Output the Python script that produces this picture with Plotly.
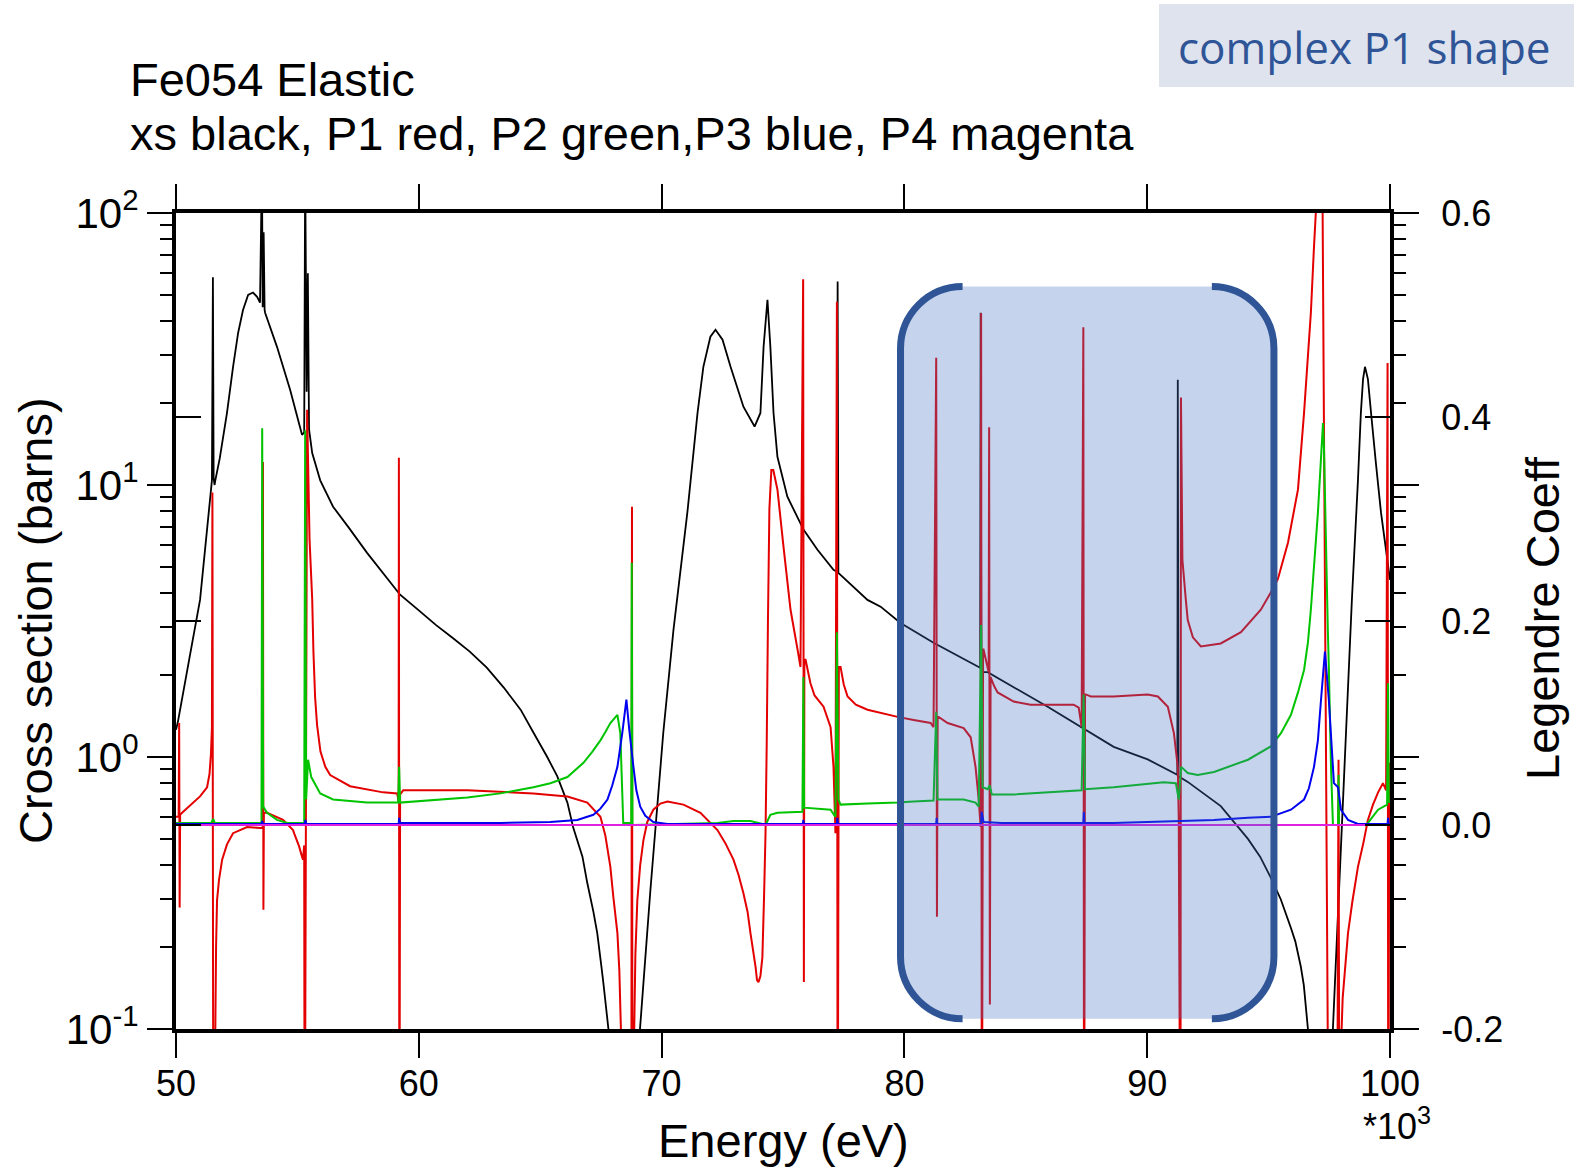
import plotly.graph_objects as go

# ---------------- data (energy in units of 10^3 eV) ----------------
# xs (black), cross section in barns, left log axis
xs_points = [
    (50.00, 1.26), (50.08, 1.35), (50.55, 2.3), (50.99, 3.78), (51.48, 10.4), (51.52, 58), (51.55, 10.6),
    (51.59, 10.0), (51.61, 10.3), (51.80, 12.5), (52.10, 18.4), (52.35, 27.2), (52.56, 36.3), (52.76, 44.0),
    (52.97, 50), (53.17, 51), (53.34, 49.2), (53.46, 46.8), (53.54, 150), (53.57, 45), (53.61, 85),
    (53.65, 44), (53.67, 43), (54.16, 32.2), (54.70, 22.4), (55.19, 15.3), (55.28, 15.6), (55.32, 150),
    (55.38, 22), (55.43, 60), (55.48, 16), (55.61, 13.1), (55.94, 10.4), (56.47, 8.32), (57.10, 7.0),
    (57.87, 5.63), (59.23, 3.95), (60.00, 3.46), (60.70, 3.06), (61.40, 2.74), (62.10, 2.44), (62.80, 2.13),
    (63.50, 1.80), (64.20, 1.49), (64.72, 1.23), (65.29, 1.0), (65.70, 0.85), (66.12, 0.68), (66.36, 0.55),
    (66.74, 0.43), (66.94, 0.344), (67.19, 0.27), (67.35, 0.225), (67.52, 0.17), (67.60, 0.148),
    (67.81, 0.1), (67.90, 0.07), (68.98, 0.07), (69.54, 0.325), (70.07, 1.23), (70.49, 2.94), (71.06, 7.91),
    (71.48, 18.4), (71.72, 27.2), (72.01, 35.1), (72.22, 37.2), (72.51, 34.2), (72.84, 27.2), (73.37, 19.4),
    (73.83, 16.4), (74.07, 18.4), (74.20, 32.2), (74.36, 48), (74.48, 32.2), (74.61, 18.4), (74.77, 12.7),
    (75.18, 9.06), (75.85, 6.84), (76.42, 5.78), (77.08, 4.88), (77.22, 4.8), (77.25, 56), (77.28, 4.75),
    (78.48, 3.78), (79.02, 3.57), (79.84, 3.11), (81.20, 2.63), (83.12, 2.13), (83.14, 43), (83.17, 2.05),
    (83.43, 2.05), (85.90, 1.53), (88.62, 1.09), (90.02, 0.98), (91.24, 0.86), (91.26, 24.4), (91.29, 0.85),
    (91.67, 0.81), (93.03, 0.66), (94.15, 0.50), (94.65, 0.43), (95.09, 0.36), (95.50, 0.30),
    (95.92, 0.235), (96.10, 0.21), (96.33, 0.169), (96.45, 0.145), (96.62, 0.1), (96.70, 0.07),
    (97.60, 0.08), (98.43, 3.78), (98.68, 10.4), (98.80, 18.4), (98.89, 24.5), (98.97, 27.2), (99.09, 24.5),
    (99.22, 18.4), (99.42, 12.0), (99.63, 7.91), (100.00, 4.48),
]

# P1 (red), Legendre coefficient, right axis
p1_points = [
    (50.00, 0.008), (50.11, 0.008), (50.13, 0.100), (50.15, -0.081), (50.17, 0.010), (50.25, 0.012),
    (50.99, 0.028), (51.28, 0.037), (51.38, 0.050), (51.44, 0.070), (51.48, 0.095), (51.50, 0.326),
    (51.54, -0.4), (51.61, -0.4), (51.62, -0.2), (51.65, -0.12), (51.69, -0.074), (51.77, -0.054),
    (51.90, -0.034), (52.10, -0.019), (52.35, -0.008), (52.93, -0.002), (53.46, -0.003), (53.57, -0.003),
    (53.58, 0.356), (53.60, -0.083), (53.62, 0.012), (53.75, 0.012), (54.41, 0.005), (54.82, -0.005),
    (54.91, -0.011), (55.07, -0.021), (55.19, -0.031), (55.23, -0.034), (55.28, -0.020), (55.30, -0.4),
    (55.40, 0.407), (55.50, 0.28), (55.61, 0.221), (55.66, 0.17), (55.73, 0.125), (55.81, 0.098),
    (55.95, 0.072), (56.15, 0.057), (56.35, 0.049), (57.17, 0.038), (58.53, 0.032), (59.11, 0.031),
    (59.17, 0.023), (59.18, 0.360), (59.20, -0.4), (59.23, 0.030), (59.36, 0.034), (62.00, 0.034),
    (64.72, 0.031), (66.12, 0.028), (66.94, 0.022), (67.48, 0.008), (67.68, -0.010), (67.89, -0.041),
    (68.01, -0.070), (68.18, -0.106), (68.26, -0.143), (68.38, -0.25), (68.45, -0.4), (68.75, -0.4),
    (68.78, 0.312), (68.80, -0.4), (68.84, -0.25), (68.92, -0.127), (69.00, -0.074), (69.12, -0.039),
    (69.25, -0.015), (69.41, 0.003), (69.66, 0.015), (69.95, 0.021), (70.24, 0.023), (70.90, 0.020),
    (71.60, 0.012), (72.30, -0.005), (72.63, -0.018), (72.96, -0.034), (73.17, -0.049), (73.37, -0.067),
    (73.54, -0.085), (73.66, -0.106), (73.87, -0.139), (73.93, -0.152), (73.99, -0.154), (74.07, -0.148),
    (74.15, -0.130), (74.22, -0.07), (74.28, -0.008), (74.33, 0.08), (74.38, 0.20), (74.44, 0.31),
    (74.52, 0.348), (74.60, 0.348), (74.77, 0.329), (75.02, 0.273), (75.31, 0.211), (75.60, 0.172),
    (75.72, 0.155), (75.83, 0.535), (75.86, -0.154), (75.88, 0.162), (75.93, 0.162), (76.13, 0.139),
    (76.30, 0.127), (76.67, 0.116), (76.96, 0.096), (77.08, 0.057), (77.16, -0.008), (77.22, 0.513),
    (77.25, -0.4), (77.30, 0.155), (77.37, 0.155), (77.50, 0.138), (77.66, 0.126), (78.00, 0.118),
    (78.48, 0.113), (79.72, 0.106), (80.38, 0.103), (81.08, 0.100), (81.20, 0.096), (81.31, 0.458),
    (81.34, -0.090), (81.37, 0.106), (81.41, 0.106), (81.78, 0.100), (82.44, 0.095), (82.73, 0.086),
    (82.93, 0.057), (83.06, 0.025), (83.14, -0.002), (83.16, 0.502), (83.19, -0.4), (83.24, 0.172),
    (83.26, 0.172), (83.47, 0.150), (83.49, 0.390), (83.52, -0.176), (83.55, 0.145), (83.70, 0.136),
    (83.84, 0.130), (84.50, 0.121), (85.20, 0.118), (86.97, 0.118), (87.18, 0.115), (87.30, 0.096),
    (87.37, 0.488), (87.40, -0.4), (87.44, 0.128), (87.47, 0.128), (87.68, 0.126), (88.62, 0.126),
    (90.02, 0.128), (90.44, 0.126), (90.85, 0.116), (91.10, 0.090), (91.26, 0.057), (91.30, 0.005),
    (91.37, -0.4), (91.39, 0.419), (91.45, 0.26), (91.59, 0.221), (91.67, 0.201), (91.88, 0.184),
    (92.21, 0.175), (93.03, 0.178), (93.86, 0.189), (94.68, 0.211), (95.09, 0.228), (95.38, 0.241),
    (95.80, 0.277), (96.21, 0.329), (96.46, 0.404), (96.74, 0.502), (96.87, 0.567), (96.99, 0.62),
    (97.10, 0.9), (97.22, 0.62), (97.44, -0.22), (97.60, -0.5), (97.80, -0.5), (97.88, 0.064),
    (97.92, -0.4), (97.98, -0.22), (98.05, -0.17), (98.27, -0.106), (98.45, -0.075), (98.68, -0.041),
    (98.90, -0.018), (99.09, 0.005), (99.30, 0.020), (99.51, 0.032), (99.71, 0.041), (99.84, 0.034),
    (99.90, 0.453), (99.93, -0.4), (99.97, 0.06), (100.00, 0.06),
]

# P2 (green)
p2_points = [
    (50.00, 0.002), (51.45, 0.002), (51.53, 0.006), (51.60, 0.002), (53.52, 0.002), (53.55, 0.389),
    (53.59, 0.018), (53.75, 0.012), (54.16, 0.005), (54.57, 0.002), (55.28, 0.002), (55.32, 0.387),
    (55.36, 0.025), (55.44, 0.064), (55.57, 0.047), (55.94, 0.031), (56.47, 0.025), (57.87, 0.022),
    (59.15, 0.022), (59.19, 0.057), (59.23, 0.022), (62.00, 0.027), (63.36, 0.031), (64.72, 0.037),
    (65.42, 0.041), (66.12, 0.047), (66.78, 0.061), (67.15, 0.072), (67.48, 0.083), (67.68, 0.091),
    (67.89, 0.100), (68.18, 0.108), (68.30, 0.090), (68.42, 0.002), (68.75, 0.002), (68.77, 0.257),
    (68.80, 0.0), (72.30, 0.002), (72.96, 0.004), (73.66, 0.004), (74.15, 0.001), (74.28, 0.0),
    (74.48, 0.010), (74.77, 0.012), (75.80, 0.013), (75.84, 0.145), (75.87, 0.017), (76.96, 0.015),
    (77.16, 0.008), (77.22, 0.189), (77.28, 0.025), (77.37, 0.020), (78.48, 0.021), (79.72, 0.022),
    (80.38, 0.023), (81.20, 0.024), (81.31, 0.111), (81.36, 0.025), (82.44, 0.025), (82.93, 0.022),
    (83.06, 0.018), (83.16, 0.196), (83.22, 0.037), (83.43, 0.035), (83.51, 0.039), (83.60, 0.030),
    (84.50, 0.030), (87.30, 0.034), (87.38, 0.128), (87.44, 0.035), (88.62, 0.037), (90.68, 0.042),
    (91.18, 0.041), (91.30, 0.025), (91.40, 0.057), (91.67, 0.051), (92.08, 0.049), (92.75, 0.052),
    (94.15, 0.064), (95.09, 0.077), (95.51, 0.090), (95.92, 0.108), (96.21, 0.130), (96.46, 0.152),
    (96.62, 0.179), (96.74, 0.211), (97.03, 0.306), (97.24, 0.394), (97.28, 0.370), (97.44, 0.191),
    (97.48, 0.155), (97.57, 0.057), (97.65, 0.0), (97.86, 0.0), (97.88, 0.049), (97.90, 0.0),
    (98.97, 0.0), (99.09, 0.002), (99.51, 0.015), (99.88, 0.020), (99.92, 0.139), (99.95, 0.022),
    (100.00, 0.024),
]

# P3 (blue)
p3_points = [
    (50.00, 0.001), (53.52, 0.001), (53.55, 0.004), (53.58, 0.001), (55.30, 0.001), (55.33, 0.005),
    (55.36, 0.001), (59.17, 0.001), (59.19, 0.007), (59.22, 0.002), (63.36, 0.002), (65.42, 0.003),
    (66.53, 0.005), (67.19, 0.010), (67.48, 0.016), (67.77, 0.025), (67.97, 0.039), (68.18, 0.057),
    (68.38, 0.090), (68.55, 0.123), (68.67, 0.093), (68.84, 0.057), (68.96, 0.034), (69.12, 0.018),
    (69.33, 0.009), (69.66, 0.003), (70.24, 0.001), (75.82, 0.001), (75.84, 0.005), (75.86, 0.001),
    (77.22, 0.001), (77.24, 0.007), (77.26, 0.001), (81.31, 0.001), (81.33, 0.007), (81.35, 0.001),
    (83.16, 0.001), (83.18, 0.013), (83.26, 0.003), (84.00, 0.002), (87.37, 0.002), (87.39, 0.013),
    (87.41, 0.002), (88.62, 0.002), (91.38, 0.004), (92.75, 0.005), (94.15, 0.007), (95.09, 0.008),
    (95.92, 0.015), (96.46, 0.025), (96.66, 0.036), (96.87, 0.057), (97.03, 0.083), (97.16, 0.123),
    (97.32, 0.170), (97.48, 0.123), (97.69, 0.041), (97.86, 0.037), (97.98, 0.015), (98.27, 0.005),
    (98.68, 0.001), (99.90, 0.001), (99.92, 0.007), (99.94, 0.001), (100.00, 0.001),
]

# P4 (magenta)
p4_points = [(50.00, 0.0), (75.00, 0.0), (100.00, 0.0)]

# ticks
x_tick_vals = [50, 60, 70, 80, 90, 100]
x_tick_text = ["50", "60", "70", "80", "90", "100"]
y_tick_vals = [0.1, 1, 10, 100]
y_tick_text = ["10<sup>-1</sup>", "10<sup>0</sup>", "10<sup>1</sup>", "10<sup>2</sup>"]
y_minor_vals = [0.2, 0.3, 0.4, 0.5, 0.6, 0.7, 0.8, 0.9, 2, 3, 4, 5, 6, 7, 8, 9,
                20, 30, 40, 50, 60, 70, 80, 90]
y2_tick_vals = [-0.2, 0.0, 0.2, 0.4, 0.6]
y2_tick_text = ["-0.2", "0.0", "0.2", "0.4", "0.6"]


def unzip(pts):
    return [p[0] for p in pts], [p[1] for p in pts]


FONT = "Liberation Sans, Arial, Helvetica, sans-serif"

fig = go.Figure()
series = [
    (xs_points, "#000000", 1.8, "y"),
    (p1_points, "#e40000", 2.0, "y2"),
    (p2_points, "#00c400", 2.0, "y2"),
    (p3_points, "#0000f0", 2.0, "y2"),
    (p4_points, "#e020e0", 2.0, "y2"),
]
for pts, col, w, ax in series:
    xv, yv = unzip(pts)
    fig.add_trace(go.Scatter(x=xv, y=yv, mode="lines", yaxis=ax,
                             line=dict(color=col, width=w, simplify=False),
                             showlegend=False, hoverinfo="skip"))

# ---------------- layout geometry ----------------
W, H = 1574, 1168
ML, MR, MT, MB = 176, 184, 213, 139
PW, PH = W - ML - MR, H - MT - MB


def px(xp):
    return (xp - ML) / PW


def py(yp):
    return (H - MB - yp) / PH


# highlight box (x in 10^3 eV, y on right axis)
L, R, T, B = 79.84, 95.22, 0.528, -0.190
rx, ry, k = 2.556, 0.0608, 0.5523
fill_path = (
    f"M{L+rx},{T} L{R-rx},{T} C{R-rx+k*rx},{T} {R},{T-ry+k*ry} {R},{T-ry} "
    f"L{R},{B+ry} C{R},{B+ry-k*ry} {R-rx+k*rx},{B} {R-rx},{B} "
    f"L{L+rx},{B} C{L+rx-k*rx},{B} {L},{B+ry-k*ry} {L},{B+ry} "
    f"L{L},{T-ry} C{L},{T-ry+k*ry} {L+rx-k*rx},{T} {L+rx},{T} Z"
)
left_path = (
    f"M{L+rx},{T} C{L+rx-k*rx},{T} {L},{T-ry+k*ry} {L},{T-ry} "
    f"L{L},{B+ry} C{L},{B+ry-k*ry} {L+rx-k*rx},{B} {L+rx},{B}"
)
right_path = (
    f"M{R-rx},{T} C{R-rx+k*rx},{T} {R},{T-ry+k*ry} {R},{T-ry} "
    f"L{R},{B+ry} C{R},{B+ry-k*ry} {R-rx+k*rx},{B} {R-rx},{B}"
)

shapes = [
    dict(type="path", path=fill_path, xref="x", yref="y2", layer="above",
         fillcolor="#4472C4", opacity=0.31, line=dict(width=0)),
    dict(type="path", path=left_path, xref="x", yref="y2", layer="above",
         fillcolor="rgba(0,0,0,0)", line=dict(color="#2F5597", width=7)),
    dict(type="path", path=right_path, xref="x", yref="y2", layer="above",
         fillcolor="rgba(0,0,0,0)", line=dict(color="#2F5597", width=7)),
    dict(type="rect", xref="paper", yref="paper", x0=px(1159), x1=px(1574), y0=py(87), y1=py(4),
         fillcolor="#DEE3EE", line=dict(width=0), layer="above"),
]

annotations = [
    dict(text="Fe054 Elastic", xref="paper", yref="paper", x=px(128), y=py(80),
         xanchor="left", yanchor="middle", showarrow=False, font=dict(family=FONT, size=47, color="black")),
    dict(text="xs black, P1 red, P2 green,P3 blue, P4 magenta", xref="paper", yref="paper",
         x=px(128), y=py(134), xanchor="left", yanchor="middle", showarrow=False,
         font=dict(family=FONT, size=47, color="black")),
    dict(text="Cross section (barns)", xref="paper", yref="paper", x=px(35), y=py(621),
         textangle=-90, xanchor="center", yanchor="middle", showarrow=False,
         font=dict(family=FONT, size=47, color="black")),
    dict(text="Legendre Coeff", xref="paper", yref="paper", x=px(1542), y=py(618),
         textangle=-90, xanchor="center", yanchor="middle", showarrow=False,
         font=dict(family=FONT, size=47, color="black")),
    dict(text="Energy (eV)", xref="paper", yref="paper", x=px(783), y=py(1140),
         xanchor="center", yanchor="middle", showarrow=False,
         font=dict(family=FONT, size=47, color="black")),
    dict(text="*10<sup>3</sup>", xref="paper", yref="paper", x=px(1397), y=py(1124),
         xanchor="center", yanchor="middle", showarrow=False,
         font=dict(family=FONT, size=36, color="black")),
    dict(text="complex P1 shape", xref="paper", yref="paper", x=px(1364), y=py(47),
         xanchor="center", yanchor="middle", showarrow=False,
         font=dict(family="Open Sans, Noto Sans, sans-serif", size=44, color="#2F5597")),
]

fig.update_layout(
    width=W, height=H, autosize=False,
    margin=dict(l=ML, r=MR, t=MT, b=MB, autoexpand=False),
    paper_bgcolor="white", plot_bgcolor="white", showlegend=False,
    font=dict(family=FONT, size=36, color="black"),
    xaxis=dict(range=[50, 100], tickmode="array", tickvals=x_tick_vals, ticktext=x_tick_text,
               ticks="outside", ticklen=25, tickwidth=2, tickcolor="black",
               showline=True, linewidth=4, linecolor="black", mirror="ticks",
               showgrid=False, zeroline=False, tickfont=dict(family=FONT, size=36),
               ticklabelstandoff=-5),
    yaxis=dict(type="log", range=[-1, 2], tickmode="array", tickvals=y_tick_vals, ticktext=y_tick_text,
               ticks="outside", ticklen=25, tickwidth=2, tickcolor="black",
               showline=True, linewidth=4, linecolor="black", mirror="ticks",
               showgrid=False, zeroline=False, tickfont=dict(family=FONT, size=42),
               minor=dict(tickmode="array", tickvals=y_minor_vals, ticks="outside", ticklen=12,
                          tickwidth=2, tickcolor="black", showgrid=False)),
    yaxis2=dict(overlaying="y", side="right", range=[-0.2, 0.6], tickmode="array",
                tickvals=y2_tick_vals, ticktext=y2_tick_text,
                ticks="inside", ticklen=25, tickwidth=2, tickcolor="black",
                showline=True, linewidth=4, linecolor="black", mirror="ticks",
                showgrid=False, zeroline=False, tickfont=dict(family=FONT, size=36),
                ticklabelstandoff=40),
    shapes=shapes,
    annotations=annotations,
)

fig.write_html("out.html")
